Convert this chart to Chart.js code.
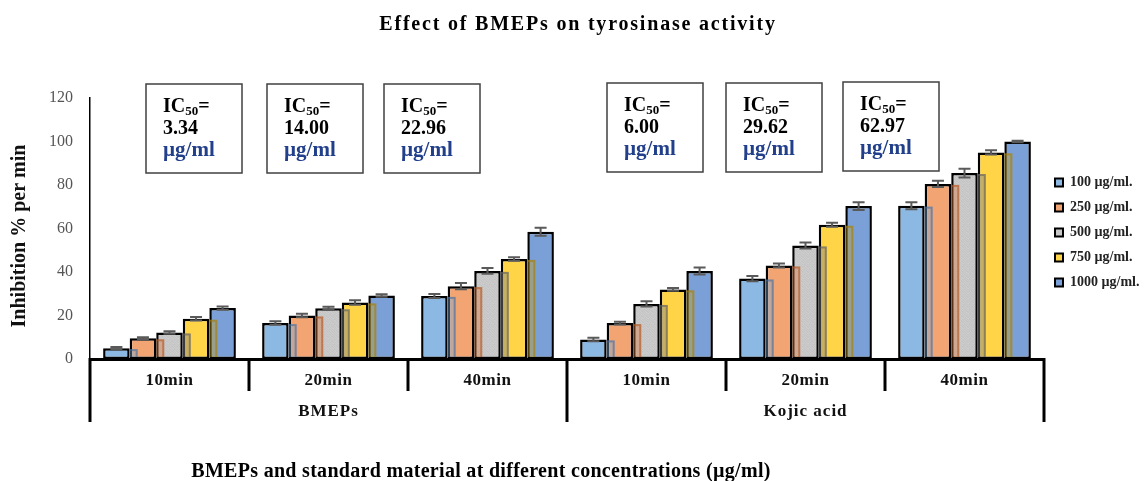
<!DOCTYPE html>
<html><head><meta charset="utf-8">
<script src="https://cdn.jsdelivr.net/npm/chart.js@4.4.1/dist/chart.umd.min.js"></script>
<style>html,body{margin:0;padding:0;background:#fff}#wrap{width:1144px;height:481px;position:relative}</style>
</head><body><div id="wrap"><canvas id="c"></canvas></div>
<script>
// ---- data ----
const timeLabels = ['10min', '20min', '40min', '10min', '20min', '40min'];
const groupLabels = ['BMEPs', 'Kojic acid'];
const seriesNames = ['100 \u00b5g/ml.', '250 \u00b5g/ml.', '500 \u00b5g/ml.', '750 \u00b5g/ml.', '1000 \u00b5g/ml.'];
const c100  = [5.0, 16.5, 29.0, 9.0, 37.0, 70.5];
const c250  = [9.5, 20.0, 33.5, 16.5, 43.0, 80.5];
const c500  = [12.2, 23.3, 40.5, 25.3, 52.2, 85.5];
const c750  = [18.5, 26.0, 46.0, 32.0, 61.7, 95.0];
const c1000 = [23.4, 29.2, 58.5, 40.5, 70.3, 100.0];
const e100  = [0.5, 0.8, 0.9, 0.8, 1.2, 1.6];
const e250  = [0.5, 0.8, 1.4, 0.6, 0.9, 1.4];
const e500  = [0.6, 0.7, 1.3, 1.2, 1.4, 2.0];
const e750  = [0.8, 1.0, 0.8, 0.6, 0.9, 1.0];
const e1000 = [0.7, 0.6, 1.8, 1.6, 1.8, 0.3];
const ic50Values = ['3.34', '14.00', '22.96', '6.00', '29.62', '62.97'];
const chartTitle = 'Effect of BMEPs on tyrosinase activity';
const xTitle = 'BMEPs and standard material at different concentrations (\u00b5g/ml)';
const yTitle = 'Inhibition % per min';

// ---- styles ----
const FONT = "'Liberation Serif', 'Times New Roman', serif";
function grayTexture() {
  const cv = document.createElement('canvas');
  cv.width = 5; cv.height = 5;
  const g = cv.getContext('2d');
  const shades = ['#c9c9c9', '#c3c3c3', '#cdcdcd', '#c6c6c6', '#cbcbcb',
                  '#cccccc', '#c7c7c7', '#c2c2c2', '#cacaca', '#c5c5c5',
                  '#c4c4c4', '#cecece', '#c8c8c8', '#c3c3c3', '#cccccc',
                  '#cacaca', '#c5c5c5', '#cbcbcb', '#cfcfcf', '#c6c6c6',
                  '#c7c7c7', '#cdcdcd', '#c4c4c4', '#c9c9c9', '#c2c2c2'];
  shades.forEach((s, i) => { g.fillStyle = s; g.fillRect(i % 5, Math.floor(i / 5), 1, 1); });
  return g.createPattern(cv, 'repeat');
}
const fills = ['#8cb9e3', '#f2a472', grayTexture(), '#ffd447', '#7b9fd7'];
const legendFills = ['#8cb9e3', '#f2a472', '#c8c8c8', '#ffd447', '#7b9fd7'];
const shadowFill = ['rgba(120,170,220,0.4)', 'rgba(220,120,60,0.4)', 'rgba(130,130,130,0.45)', 'rgba(200,160,20,0.4)'];
const shadowLine = ['rgba(60,100,150,0.55)', 'rgba(170,80,30,0.55)', 'rgba(90,90,90,0.55)', 'rgba(160,120,0,0.55)'];
const boxLeftOffset = [-23.5, -61.5, -103.5, -39.5, -79.5, -121.5];
const boxTopOffset = [-14, -14, -14, -15, -15, -16];

const values = [c100, c250, c500, c750, c1000];
const errors = [e100, e250, e500, e750, e1000];

const deco = {
  id: 'deco',
  afterDatasetsDraw(chart) {
    const ctx = chart.ctx;
    const n = chart.data.datasets.length;
    // shadows cast onto neighbour bars
    for (let d = n - 2; d >= 0; d--) {
      const meta = chart.getDatasetMeta(d);
      meta.data.forEach(el => {
        const p = el.getProps(['x', 'y', 'base', 'width'], true);
        const left = p.x - p.width / 2, right = p.x + p.width / 2;
        ctx.save();
        ctx.beginPath(); ctx.rect(right, p.y - 3, 12, p.base - p.y + 1); ctx.clip();
        ctx.fillStyle = shadowFill[d];
        ctx.fillRect(left + 8, p.y + 1, p.width, p.base - p.y);
        ctx.strokeStyle = shadowLine[d]; ctx.lineWidth = 2;
        ctx.strokeRect(left + 9, p.y + 2, p.width - 2, p.base - p.y);
        ctx.restore();
      });
    }
    // error bars
    const ys = chart.scales.y;
    ctx.save();
    ctx.strokeStyle = '#5a5a5a'; ctx.lineWidth = 2;
    for (let d = 0; d < n; d++) {
      const meta = chart.getDatasetMeta(d);
      meta.data.forEach((el, i) => {
        const v = chart.data.datasets[d].data[i];
        const e = errors[d][i];
        const x = el.x;
        const yHi = ys.getPixelForValue(v + e), yLo = ys.getPixelForValue(v - e);
        ctx.beginPath();
        ctx.moveTo(x, yHi); ctx.lineTo(x, yLo);
        ctx.moveTo(x - 6, yHi); ctx.lineTo(x + 6, yHi);
        ctx.moveTo(x - 6, yLo); ctx.lineTo(x + 6, yLo);
        ctx.stroke();
      });
    }
    ctx.restore();
  },
  afterDraw(chart) {
    const ctx = chart.ctx;
    const xs = chart.scales.x;
    const ca = chart.chartArea;
    const catW = xs.getPixelForValue(1) - xs.getPixelForValue(0);
    const x0 = xs.getPixelForValue(0) - catW / 2;
    ctx.save();
    // title
    ctx.fillStyle = '#000';
    ctx.font = 'bold 20px ' + FONT;
    ctx.textAlign = 'center'; ctx.textBaseline = 'alphabetic';
    ctx.letterSpacing = '1.8px';
    ctx.fillText(chartTitle, 578, 30);
    // x axis title
    ctx.letterSpacing = '0.3px';
    ctx.fillText(xTitle, 481, 477);
    ctx.letterSpacing = '0px';
    // y axis title
    ctx.save();
    ctx.translate(20, 236); ctx.rotate(-Math.PI / 2);
    ctx.textBaseline = 'middle'; ctx.fillStyle = '#111';
    ctx.fillText(yTitle, 0, 0);
    ctx.restore();
    // dividers
    ctx.strokeStyle = '#000'; ctx.lineWidth = 3; ctx.lineCap = 'butt';
    const per = timeLabels.length / groupLabels.length;
    for (let i = 0; i <= timeLabels.length; i++) {
      const bx = x0 + i * catW;
      const len = (i % per === 0) ? 63 : 32;
      ctx.beginPath(); ctx.moveTo(bx, ca.bottom - 1); ctx.lineTo(bx, ca.bottom + len); ctx.stroke();
    }
    // time labels
    ctx.font = 'bold 17px ' + FONT;
    ctx.textBaseline = 'middle';
    ctx.fillStyle = '#111';
    ctx.letterSpacing = '0.5px';
    timeLabels.forEach((t, i) => ctx.fillText(t, xs.getPixelForValue(i), ca.bottom + 22));
    ctx.letterSpacing = '1px';
    groupLabels.forEach((g, k) => {
      const cx = x0 + (k + 0.5) * per * catW;
      ctx.fillText(g, cx, ca.bottom + 53);
    });
    ctx.letterSpacing = '0px';
    // IC50 boxes
    ic50Values.forEach((v, i) => {
      const bl = xs.getPixelForValue(i) + boxLeftOffset[i];
      const bt = ca.top + boxTopOffset[i];
      ctx.fillStyle = '#fff';
      ctx.fillRect(bl, bt, 96, 89);
      ctx.strokeStyle = '#404040'; ctx.lineWidth = 1.5;
      ctx.strokeRect(bl, bt, 96, 89);
      const tx = bl + 17;
      ctx.textAlign = 'left'; ctx.textBaseline = 'alphabetic';
      ctx.fillStyle = '#000';
      ctx.font = 'bold 20px ' + FONT;
      ctx.fillText('IC', tx, bt + 28);
      let w = ctx.measureText('IC').width;
      ctx.font = 'bold 13px ' + FONT;
      ctx.fillText('50', tx + w, bt + 31);
      w += ctx.measureText('50').width;
      ctx.font = 'bold 20px ' + FONT;
      ctx.fillText('=', tx + w, bt + 28);
      ctx.fillText(v, tx, bt + 50);
      ctx.fillStyle = '#213f8a';
      ctx.font = 'bold 21px ' + FONT;
      ctx.fillText('\u00b5g/ml', tx, bt + 72);
    });
    ctx.restore();
  }
};

const datasets = values.map((vals, k) => ({
  label: seriesNames[k],
  data: vals,
  backgroundColor: fills[k],
  borderColor: '#000',
  borderWidth: 2.5,
  borderSkipped: false,
  categoryPercentage: 0.835,
  barPercentage: 1.0
}));

new Chart(document.getElementById('c'), {
  type: 'bar',
  data: { labels: timeLabels, datasets },
  options: {
    responsive: true,
    maintainAspectRatio: false,
    animation: false,
    layout: { padding: { top: 98, left: 32, right: 0, bottom: 122 } },
    scales: {
      x: {
        ticks: { display: false },
        grid: { display: false, drawTicks: false },
        border: { display: true, color: '#000', width: 3 }
      },
      y: {
        min: 0, max: 120,
        ticks: { stepSize: 20, color: '#555', padding: 17, font: { family: FONT, size: 16 } },
        grid: { display: false, drawTicks: false },
        border: { display: true, color: '#000', width: 1.5 },
        title: { display: false }
      }
    },
    plugins: {
      legend: {
        position: 'right',
        maxWidth: 100,
        title: { display: true, text: '', font: { size: 8, lineHeight: 1 }, padding: 0 },
        labels: {
          boxWidth: 8, boxHeight: 8, padding: 11, color: '#222',
          font: { family: FONT, size: 14, weight: 'bold' },
          generateLabels(chart) {
            const items = Chart.defaults.plugins.legend.labels.generateLabels(chart);
            items.forEach((it, k) => { it.fillStyle = legendFills[k]; it.lineWidth = 2; it.strokeStyle = '#000'; });
            return items;
          }
        }
      },
      title: { display: false },
      tooltip: { enabled: false }
    }
  },
  plugins: [deco]
});
</script>
</body></html>
